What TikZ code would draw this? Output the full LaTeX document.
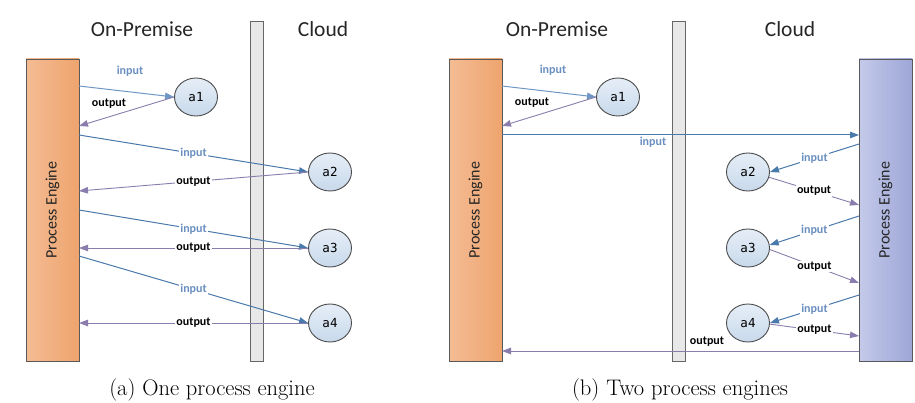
\documentclass[tikz,border=0pt]{standalone}
\usepackage{fontspec}
\newfontfamily\calfont{Carlito}
\newfontfamily\monofont{DejaVu Sans Mono}
\usetikzlibrary{arrows.meta,shapes.geometric}
\definecolor{inblue}{HTML}{4A79AB}
\definecolor{inlight}{HTML}{6F97C4}
\definecolor{outpurple}{HTML}{8A7DAE}
\definecolor{lblblue}{HTML}{6A8FC0}
\definecolor{orangeL}{HTML}{F4BC94}
\definecolor{orangeR}{HTML}{EEA46E}
\definecolor{blueL}{HTML}{C4CAEA}
\definecolor{blueR}{HTML}{9DA6D7}
\definecolor{circT}{HTML}{E6EEF7}
\definecolor{circB}{HTML}{C8D9EB}
\begin{document}
\begin{tikzpicture}[x=1pt,y=-1pt,
  engine/.style={draw=black!65, line width=0.8pt, minimum width=53pt, minimum height=302pt, inner sep=0pt, left color=orangeL, right color=orangeR},
  engineb/.style={engine, left color=blueL, right color=blueR},
  enginetext/.style={rotate=90, font=\calfont\fontsize{16}{19}\selectfont, text=black!85},
  wall/.style={draw=black!60, line width=0.8pt, fill=black!9, minimum width=13pt, minimum height=340pt, inner sep=0pt},
  header/.style={font=\calfont\fontsize{21.5}{25}\selectfont, text=black!85},
  act/.style={ellipse, draw=black!70, line width=0.9pt, top color=circT, bottom color=circB, minimum width=43pt, minimum height=38pt, inner sep=0pt, font=\monofont\fontsize{12.5}{14}\selectfont},
  inarrow/.style={draw=inblue, line width=1pt, -{Triangle[length=9pt,width=6.5pt]}},
  inarrowl/.style={inarrow, draw=inlight},
  outarrow/.style={draw=outpurple, line width=0.9pt, -{Triangle[length=9pt,width=6.5pt]}},
  inlbl/.style={font=\calfont\bfseries\fontsize{12}{14}\selectfont, text=lblblue, inner sep=1pt},
  outlbl/.style={font=\calfont\bfseries\fontsize{12}{14}\selectfont, text=black, inner sep=1pt},
  online/.style={fill=white},
  caption/.style={font=\fontsize{22.5}{27}\selectfont}
]
\useasboundingbox (0,0) rectangle (915,403);
\fill[white] (0,0) rectangle (915,403);

% ---------------- (a) ----------------
\node[header] (hOnA) at (142,29) {On-Premise};
\node[header] (hClA) at (323,29) {Cloud};
\node[engine] (peA) at (52.5,210) {};
\node[enginetext] (peAt) at (peA.center) {Process Engine};
\node[wall] (wallA) at (256.5,191) {};
\node[act] (a1A) at (196,97) {a1};
\node[act] (a2A) at (330,172) {a2};
\node[act] (a3A) at (330,248) {a3};
\node[act] (a4A) at (330,323) {a4};

\coordinate (A1i) at (79,86);
\coordinate (A1o) at (79,126);
\coordinate (A2i) at (79,135);
\coordinate (A2o) at (79,191);
\coordinate (A3i) at (79,210);
\coordinate (A3o) at (79,248);
\coordinate (A4i) at (79,256);
\coordinate (A4o) at (79,323);

\draw[inarrowl] (A1i) -- (a1A.west);
\draw[outarrow] (a1A.west) -- (A1o);
\node[inlbl] (lA1i) at (130,71) {input};
\node[outlbl] (lA1o) at (109,104) {output};

\draw[inarrow] (A2i) -- node[inlbl,online,midway] (lA2i) {input} (a2A.west);
\draw[outarrow] (a2A.west) -- node[outlbl,online,midway] (lA2o) {output} (A2o);
\draw[inarrow] (A3i) -- node[inlbl,online,midway] (lA3i) {input} (a3A.west);
\draw[outarrow] (a3A.west) -- node[outlbl,online,midway] (lA3o) {output} (A3o);
\draw[inarrow] (A4i) -- node[inlbl,online,midway] (lA4i) {input} (a4A.west);
\draw[outarrow] (a4A.west) -- node[outlbl,online,midway] (lA4o) {output} (A4o);

\node[caption] (capA) at (212,390) {(a) One process engine};

% ---------------- (b) ----------------
\node[header] (hOnB) at (557,29) {On-Premise};
\node[header] (hClB) at (790,29) {Cloud};
\node[engine] (peB) at (475.5,210) {};
\node[enginetext] (peBt) at (peB.center) {Process Engine};
\node[engineb] (peC) at (885.5,210) {};
\node[enginetext] (peCt) at (peC.center) {Process Engine};
\node[wall] (wallB) at (678.5,191) {};
\node[act] (a1B) at (618,97) {a1};
\node[act] (a2B) at (748,172) {a2};
\node[act] (a3B) at (748,248) {a3};
\node[act] (a4B) at (748,323) {a4};

\coordinate (B1i) at (502,86);
\coordinate (B1o) at (502,126);
\coordinate (BBi) at (502,135);
\coordinate (BBo) at (502,351);
\coordinate (C0i) at (859,135);
\coordinate (C0o) at (859,351);
\coordinate (C2i) at (859,144);
\coordinate (C2o) at (859,205);
\coordinate (C3i) at (859,216);
\coordinate (C3o) at (859,283);
\coordinate (C4i) at (859,295);
\coordinate (C4o) at (859,336);

\draw[inarrowl] (B1i) -- (a1B.west);
\draw[outarrow] (a1B.west) -- (B1o);
\node[inlbl] (lB1i) at (553,70) {input};
\node[outlbl] (lB1o) at (532,103) {output};

\draw[inarrow] (BBi) -- (C0i);
\node[inlbl] (lBBi) at (653,142) {input};
\draw[outarrow] (C0o) -- (BBo);
\node[outlbl] (lBBo) at (707,342) {output};

\draw[inarrow] (C2i) -- node[inlbl,online,midway] (lC2i) {input} (a2B.east);
\draw[outarrow] (a2B.-14) -- node[outlbl,online,midway] (lC2o) {output} (C2o);
\draw[inarrow] (C3i) -- node[inlbl,online,midway] (lC3i) {input} (a3B.8);
\draw[outarrow] (a3B.-4) -- node[outlbl,online,midway] (lC3o) {output} (C3o);
\draw[inarrow] (C4i) -- node[inlbl,online,midway] (lC4i) {input} (a4B.east);
\draw[outarrow] (a4B.-3) -- node[outlbl,online,midway] (lC4o) {output} (C4o);

\node[caption] (capB) at (680,390) {(b) Two process engines};
\end{tikzpicture}
\end{document}
